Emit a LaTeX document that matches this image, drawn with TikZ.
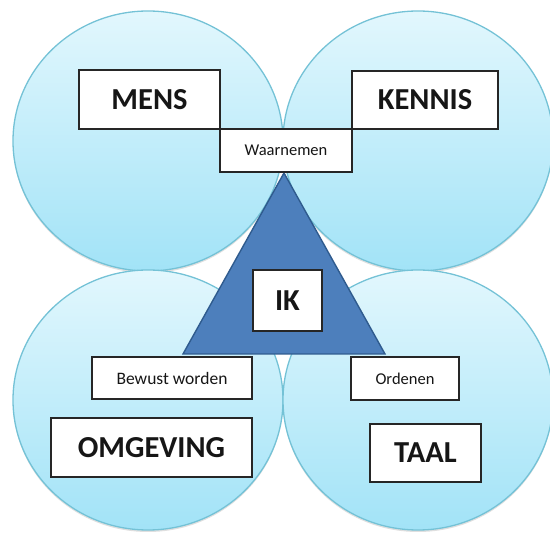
\documentclass[tikz,border=0pt]{standalone}
\usepackage{fontspec}
\setmainfont{Carlito}
\usetikzlibrary{shapes.geometric,shadows}
\definecolor{circtop}{HTML}{E2F7FD}
\definecolor{circbot}{HTML}{A2E3F7}
\definecolor{circline}{HTML}{74C2D6}
\definecolor{trifill}{HTML}{4D7FBC}
\definecolor{triline}{HTML}{2F5B8E}
\definecolor{boxline}{HTML}{262626}
\definecolor{txt}{HTML}{161616}
\tikzset{
  bubble/.style={ellipse, draw=circline, line width=1.3pt, top color=circtop, bottom color=circbot,
    minimum width=270pt, minimum height=260pt, inner sep=0pt,
    drop shadow={opacity=0.25, shadow xshift=0pt, shadow yshift=-2pt}},
  labelbox/.style={rectangle, draw=boxline, fill=white, line width=1.4pt, inner sep=0pt, outer sep=0pt,
    text=txt, drop shadow={opacity=0.2, shadow xshift=1pt, shadow yshift=-1pt}},
  bigbox/.style={labelbox, font=\fontsize{30.5}{34}\selectfont\bfseries},
  smallbox/.style={labelbox, font=\fontsize{16.5}{18}\selectfont},
}
\begin{document}
\begin{tikzpicture}[x=1pt,y=-1pt]
\useasboundingbox (0,0) rectangle (550,534);
% circles
\node[bubble] (cTL) at (148,141) {};
\node[bubble] (cTR) at (418,141) {};
\node[bubble] (cBL) at (148,400) {};
\node[bubble] (cBR) at (418,400) {};
% triangle
\coordinate (tA) at (284,173);
\coordinate (tL) at (183,354);
\coordinate (tR) at (385,354);
\draw[fill=trifill, draw=triline, line width=1.4pt, line join=miter] (tA) -- (tL) -- (tR) -- cycle;
% boxes
\node[bigbox, minimum width=141pt, minimum height=59pt] (mens) at (149.5,99.5) {MENS};
\node[bigbox, minimum width=146pt, minimum height=58pt] (kennis) at (425,100) {KENNIS};
\node[smallbox, minimum width=132pt, minimum height=43pt] (waar) at (286,150.5) {Waarnemen};
\node[bigbox, minimum width=69pt, minimum height=61pt] (ik) at (287.5,300.5) {IK};
\node[smallbox, minimum width=160pt, minimum height=42pt, font=\fontsize{17.5}{19}\selectfont] (bewust) at (172,378) {Bewust worden};
\node[bigbox, minimum width=201pt, minimum height=59pt] (omg) at (151.5,447.5) {OMGEVING};
\node[smallbox, minimum width=108pt, minimum height=43pt] (orden) at (405,378.5) {Ordenen};
\node[bigbox, minimum width=111pt, minimum height=58pt] (taal) at (425.5,453) {TAAL};
\end{tikzpicture}
\end{document}
